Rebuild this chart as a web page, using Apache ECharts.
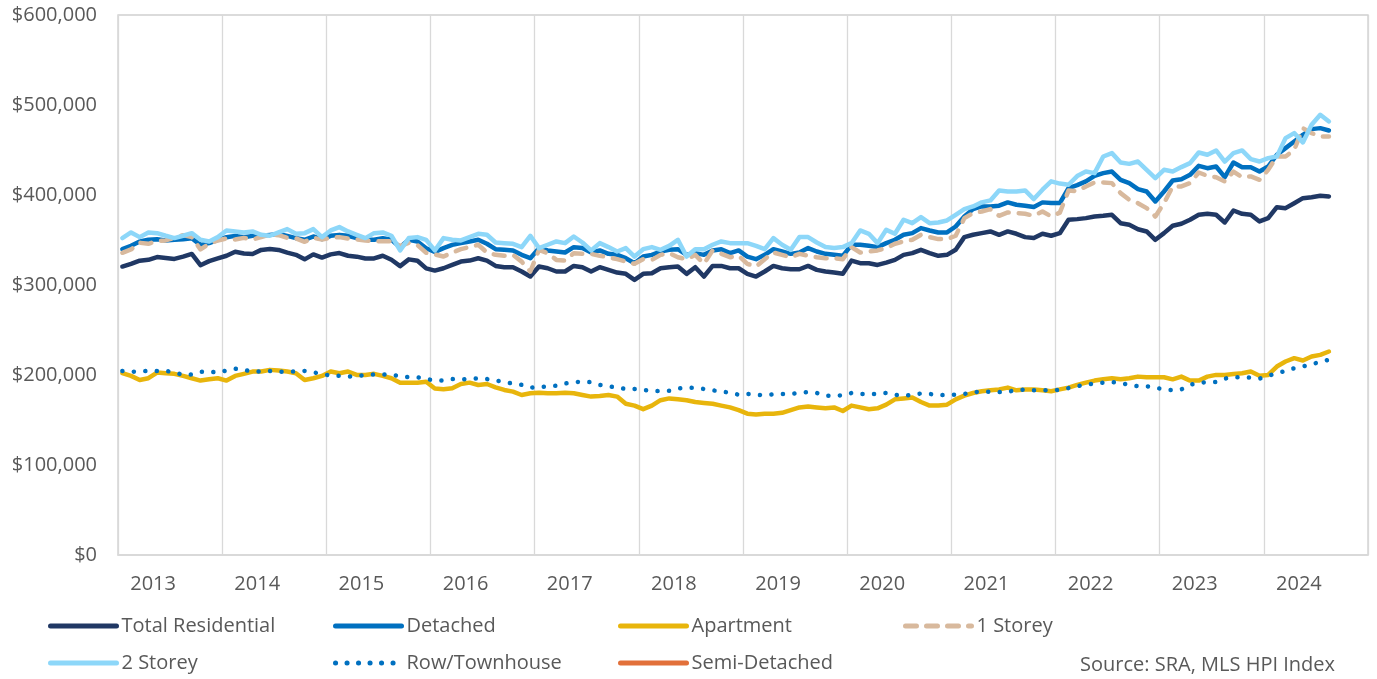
<!DOCTYPE html>
<html>
<head>
<meta charset="utf-8">
<script src="https://cdn.jsdelivr.net/npm/echarts@6/dist/echarts.min.js"></script>
<style>
html,body{margin:0;padding:0;background:#fff}
#chart{width:1377px;height:679px}
</style>
</head>
<body>
<div id="chart"></div>
<script>
// monthly MLS HPI benchmark prices, Jan 2013 - Aug 2024, in $ thousands
var years = ['2013','2014','2015','2016','2017','2018','2019','2020','2021','2022','2023','2024'];
var months = [];
years.forEach(function (y) {
    for (var m = 1; m <= 12; m++) months.push(y + '-' + (m < 10 ? '0' + m : m));
});

var totalResidential = [
    320.5,323.5,327,328,331,330,329,331.5,334.5,322,326.5,329.5,
    332.5,337,335,334.5,339,340,339,336,333.5,328.5,334,330.5,
    334,335.5,332.5,331.5,329.5,329.5,332.5,328,321,328.5,327,318.5,
    316,318.6,322.3,326,327.1,329.7,327.1,321.2,319.8,319.8,315,309.4,
    320.5,318.6,315,315,321.2,319.8,315,319.8,316.8,313.8,312.4,305.7,
    312.4,313.1,318.6,319.8,320.5,312.4,319.8,309.4,321.2,321.2,318.6,318.6,
    312.4,309.4,315,321.2,318.6,317.5,317.5,321.2,316.8,315,313.8,312.4,
    327.1,324.2,324.2,322.3,324.9,327.9,333.5,335.4,339.1,335.4,332.4,333.5,
    339.1,353.2,355.8,357.6,359.5,355.8,359.5,356.9,353.2,352.1,356.9,354.7,
    357.6,372.5,373.2,374.3,376.2,376.9,378,368.7,366.9,362,359.5,350.2,
    357.6,365.8,368,372.5,378,379.1,378,369.5,382.8,379.1,378,370.6,
    374.3,386.5,385.4,390.9,396.5,397.6,399.1,398.4
];
var detached = [
    339.8,343.5,348.3,350.2,350.9,349.4,350.2,350.9,352,344.6,346.5,350.2,
    353.1,354.6,353.1,354.6,354.6,355.7,356.8,354.6,352,350.2,353.9,350.9,
    354.6,355.7,354.6,352,350.2,350.2,352,350.2,342,350.2,348.3,340.9,
    336.6,341,344.6,346.5,348.4,350.2,345.8,339.8,339.1,338.4,333.5,329.8,
    341,338.4,337.2,336.1,342,341,336.1,338.4,334.6,333.5,329.8,324.2,
    331.6,333.5,337.2,339.1,339.8,333.5,335.4,333.5,338.4,339.8,335.4,338.4,
    331.6,328.7,333.5,339.8,337.2,334.6,336.1,341,337.2,334.6,333.5,332.4,
    344.7,344.7,343.5,342.1,346.5,350.2,355.8,357.6,363.2,360.6,358.4,358.4,
    365,376.2,384.3,387.3,387.3,388.1,391.8,389.2,388.1,386.6,391.8,391,
    391,407.7,411,415.1,421.3,424.3,426.1,416.9,413.2,406.5,403.9,392.8,
    403.9,416.1,417.6,422.4,432.4,429.8,431.7,419.8,436.1,430.9,430.9,426.1,
    431.7,444.7,452.1,459.5,466.9,473.2,474.3,471.7
];
var apartment = [
    202,199,194.5,196.4,202.7,202,201.3,199,196.4,193.8,195.2,196.4,
    193.8,199,201.3,203.8,203.8,205.7,205,203.8,202,194.5,196.4,199,
    203.8,202,203.8,200.1,200.1,201.3,199,196.4,191.5,191.5,191.5,192.6,
    185,184.1,185.2,190,191.5,188.9,190,186.3,183.4,181.5,177.8,179.7,
    180.4,179.7,179.7,180.4,179.7,177.8,176,176.7,177.8,176,168,166,
    162,166,172,174,173,172,170,169,168,166,164,161,
    157,156,157,157,158,161,164,165,164,163,164,160,
    166,164,162,163,167,173,174,175,170,166,166,167,
    173,177,180,182,183,184,186,183,184,184,183,182,
    184,186,189,191.5,193.8,195.2,196.3,195.2,196.3,198.2,197.5,197.5,
    197.5,195.2,198.2,193.8,193.8,198.2,200.1,200.1,201.2,201.9,203.8,199.1,
    200.1,209.4,215,218.7,216.1,220.5,222.4,226.1
];
var oneStorey = [
    335.8,339.5,346.9,345.8,348.7,349.5,352.4,355.4,353.2,339.5,345.8,349.5,
    351.7,350.6,352.4,350.6,353.2,356.1,355.4,352.4,351.7,348,352.4,350.6,
    352.4,353.2,351.7,350.6,349.5,348.7,348.7,348.7,343.2,346.9,344.3,335.8,
    333.9,331.6,336.1,339.8,342.1,344.7,336.1,333.5,332.4,333.5,326,315,
    339.1,335.4,327.9,327.1,335.4,334.6,334.6,332.4,330.9,328.7,326,323.5,
    328.7,327.9,333.5,335.4,330.9,328.7,333.5,323.5,338.4,334.6,330.9,332.4,
    323.5,320.5,328.7,336.1,333.5,330.9,334.6,332.4,330.9,329.8,329.8,328.7,
    342.1,336.1,337.2,338.4,341,345.8,348.4,350.2,355.8,353.2,351,351,
    354.7,374.3,379.9,381.7,384.3,376.9,380.6,379.9,379.1,376.9,381.7,376.2,
    380.4,404.9,404.3,409.5,413.9,413.9,413.2,402.1,394.7,390.9,385.4,376.1,
    390.9,409.5,409.5,413.2,425,421.3,419.8,415.1,426.1,419.8,420.6,416.9,
    428,442.8,442.8,450.2,474.3,468.8,465.1,465.1
];
var twoStorey = [
    352.1,358.4,353.2,358.4,357.6,354.7,352.1,354.7,357.6,350.2,348.4,353.2,
    360.6,359.5,358.4,359.5,355.8,354.7,358.4,362.1,356.9,357.6,362.1,353.2,
    360.6,364.3,359.5,355.8,352.1,357.6,358.4,354.7,338.4,352.1,353.2,350.2,
    338.4,352.1,350.2,349.5,353.2,356.9,355.8,347.2,346.5,345.8,342.1,354.7,
    341,344.7,348.4,346.5,353.9,347.2,338.4,346.5,342.1,337.2,341,331.6,
    339.8,342.1,339.1,343.5,350.2,331.6,339.8,339.8,344.7,348.4,346.5,346.5,
    346.5,343.5,339.8,352.1,344.7,339.1,353.2,353.2,347.2,342.1,341,342.1,
    346.5,360.6,356.9,346.5,361.3,356.9,372.5,368.7,375.4,368.7,369.5,371.7,
    378,384.3,387.3,391.8,394,405.1,404,404,405.1,395.5,405.9,415.2,
    412.7,411.4,421,426.1,424.3,442.8,446.5,436.1,434.6,437.2,428,418.7,
    428,426.1,431,435.4,447.2,444.7,449.5,437.2,446.5,449.5,439.9,437.2,
    441,442.8,463.2,468.8,458.4,478,489.1,481.7
];
var rowTownhouse = [
    204.5,203.5,204,204.5,204.5,204.5,203,200,200.5,203.5,204,202.5,
    205,207,205.5,204,204,204.5,203.5,203.5,204,204.5,203,201,
    199.5,199,198,199,200,200.5,200.5,200.5,198.5,197.5,197.5,195.5,
    194,194,195.5,195,196,196,195.5,194,192,190.5,189,186,
    186.5,187.5,188,190.5,192,192.5,192,189,187.5,186,184.5,184.5,
    183.5,182.5,182,182.5,185,186,185.5,184.5,183,181.5,180.5,178,
    179,178,177.5,178.5,179,179,180,181,180,177,177,177.5,
    180,179,179,179,180,178,177,178,179.5,179,177.5,178,
    178,179,181,181.5,181.5,181,181.5,183,184,183,183,183,
    183.5,185.5,187.5,189.4,190.5,191.5,192.3,191,189,187.5,187.5,186,
    184,183,184,189,191.5,192,192.3,196,197.5,197.5,197,196,
    199,202,204.5,207.5,209.5,212,214.5,217
];
var semiDetached = [];

var seriesNames = ['Total Residential','Detached','Apartment','1 Storey','2 Storey','Row/Townhouse','Semi-Detached'];
var seriesValues = [totalResidential, detached, apartment, oneStorey, twoStorey, rowTownhouse, semiDetached];
var seriesColors = ['#203864','#0070c0','#e8b50c','#d8b99d','#8dd7f9','#0070c0','#e2703a'];
var seriesDash = ['solid','solid','solid',[11,10],'solid',[0.1,11.4],'solid'];

// legend slots: two rows of fixed columns
var legendSlots = [[48,616],[333,616],[618,616],[903,616],[48,653],[333,653],[618,653]];

var textColor = '#595959';
var fontFamily = '"Open Sans", sans-serif';

var option = {
    animation: false,
    backgroundColor: '#fff',
    grid: {
        left: 118,
        right: 9,
        top: 15,
        bottom: 124,
        show: true,
        borderColor: '#d0d0d0',
        borderWidth: 1.3
    },
    xAxis: {
        type: 'category',
        data: months,
        boundaryGap: true,
        axisLine: { lineStyle: { color: '#d9d9d9', width: 1.5 } },
        axisTick: { show: false },
        splitLine: {
            show: true,
            interval: function (i) { return i % 12 === 0; },
            lineStyle: { color: '#d9d9d9', width: 1.3 }
        },
        axisLabel: {
            interval: function (i) { return i % 12 === 4; },
            formatter: function (v) { return v.slice(0, 4); },
            color: textColor,
            fontFamily: fontFamily,
            fontSize: 20,
            margin: 19,
            padding: [0, 8, 0, 0]
        }
    },
    yAxis: {
        type: 'value',
        min: 0,
        max: 600000,
        interval: 100000,
        axisLine: { show: false },
        axisTick: { show: false },
        splitLine: { show: false },
        axisLabel: {
            color: textColor,
            fontFamily: fontFamily,
            fontSize: 20,
            margin: 21,
            formatter: function (v) { return '$' + v.toLocaleString('en-US'); }
        }
    },
    legend: seriesNames.map(function (n, i) {
        return {
            data: [n],
            left: legendSlots[i][0],
            top: legendSlots[i][1],
            padding: 0,
            itemWidth: 66,
            itemHeight: 14,
            itemGap: 0,
            itemStyle: { opacity: 0 },
            lineStyle: { width: 5 },
            textStyle: { color: textColor, fontFamily: fontFamily, fontSize: 20 }
        };
    }),
    graphic: [{
        type: 'text',
        right: 42,
        top: 655,
        style: {
            text: 'Source: SRA, MLS HPI Index',
            fill: textColor,
            font: '20px "Open Sans", sans-serif'
        }
    }],
    series: seriesNames.map(function (n, i) {
        return {
            name: n,
            type: 'line',
            symbol: 'none',
            color: seriesColors[i],
            lineStyle: {
                color: seriesColors[i],
                width: 4.5,
                type: seriesDash[i],
                cap: 'round',
                join: 'round'
            },
            data: seriesValues[i].map(function (v) { return Math.round(v * 1000); })
        };
    })
};

var myChart = echarts.init(document.getElementById('chart'));
myChart.setOption(option);
</script>
</body>
</html>
